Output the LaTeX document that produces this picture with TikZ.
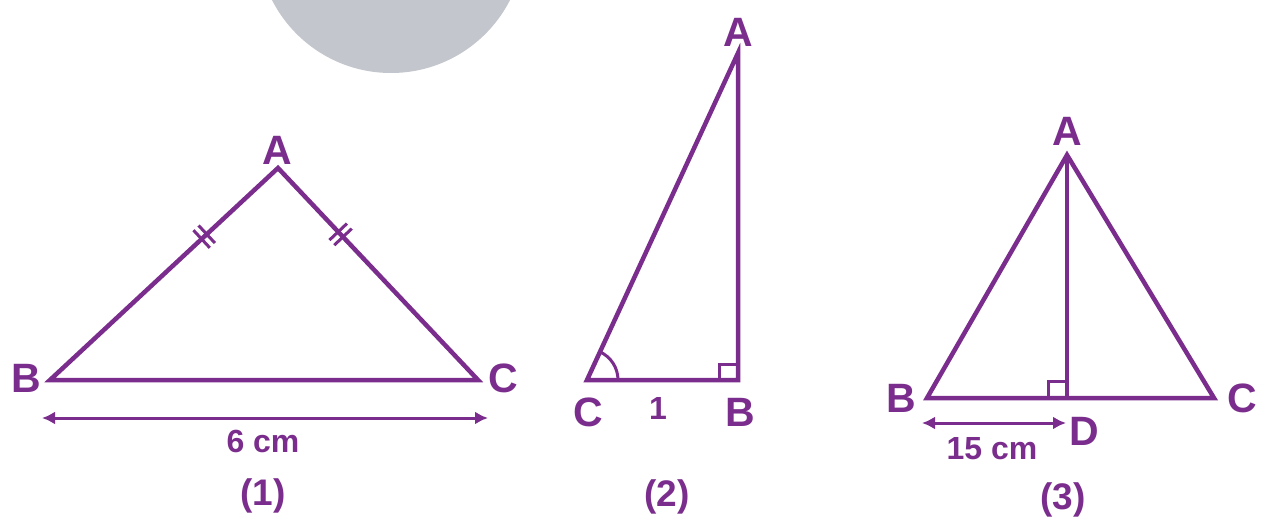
\documentclass[tikz,border=0pt]{standalone}
\usepackage{fontspec}
\setmainfont{Liberation Sans}
\usetikzlibrary{arrows.meta,calc}
\definecolor{pur}{HTML}{7A2D8C}
\definecolor{cgray}{HTML}{C3C6CD}
\begin{document}
\begin{tikzpicture}[x=1pt,y=-1pt,
  edge/.style={draw=pur,line width=4.5pt,line join=miter},
  tickln/.style={draw=pur,line width=3pt},
  lab/.style={text=pur,font=\fontsize{41}{41}\selectfont\bfseries,inner sep=0pt},
  meas/.style={text=pur,font=\fontsize{32}{32}\selectfont\bfseries,inner sep=0pt},
  captxt/.style={text=pur,font=\fontsize{37}{37}\selectfont\bfseries,inner sep=0pt},
  dim/.style={draw=pur,line width=3pt,{Latex[length=13pt,width=13pt]}-{Latex[length=13pt,width=13pt]}}]
\useasboundingbox (0,0) rectangle (1267,522);
\fill[cgray] (391,-60.5) circle (133.5);
% triangle 1
\coordinate (B1) at (50,380);
\coordinate (C1) at (478,380);
\coordinate (A1) at (278,168);
\draw[edge] (B1) -- (A1) -- (C1) -- cycle;
\node[lab] (lA1) at (277,150) {A};
\node[lab] (lB1) at (26,378) {B};
\node[lab] (lC1) at (503,378) {C};
\coordinate (m1) at ($(B1)!0.665!(A1)$);
\coordinate (m2) at ($(C1)!0.675!(A1)$);
\draw[tickln] ($(m1)!12pt!90:(A1)$) -- ($(m1)!12pt!-90:(A1)$);
\draw[tickln] ($($(m1)!7pt!(A1)$)!12pt!90:(A1)$) -- ($($(m1)!7pt!(A1)$)!12pt!-90:(A1)$);
\draw[tickln] ($(m2)!12pt!90:(A1)$) -- ($(m2)!12pt!-90:(A1)$);
\draw[tickln] ($($(m2)!7pt!(A1)$)!12pt!90:(A1)$) -- ($($(m2)!7pt!(A1)$)!12pt!-90:(A1)$);
\coordinate (d1a) at (42,418);
\coordinate (d1b) at (488,418);
\draw[dim] (d1a) -- (d1b);
\node[meas] (t1) at (263,441) {6 cm};
\node[captxt] (c1) at (263,496) {(1)};
% triangle 2
\coordinate (C2) at (587,380);
\coordinate (B2) at (738,380);
\coordinate (A2) at (738,53);
\draw[edge] (C2) -- (B2) -- (A2) -- cycle;
\draw[tickln] ($(C2)+(31,0)$) arc[start angle=0,end angle=-65.2,radius=31];
\draw[tickln] ($(B2)+(-19,0)$) -- ++(0,-16) -- ++(19,0);
\node[lab] (lA2) at (738,32) {A};
\node[lab] (lC2) at (588,412) {C};
\node[lab] (lB2) at (740,412) {B};
\node[meas] (t2) at (658,408) {1};
\node[captxt] (c2) at (667,497) {(2)};
% triangle 3
\coordinate (B3) at (927,398);
\coordinate (C3) at (1214,398);
\coordinate (A3) at (1067,155);
\coordinate (D3) at (1067,398);
\draw[edge] (B3) -- (A3) -- (C3) -- cycle;
\draw[edge] (A3) -- (D3);
\draw[tickln] ($(D3)+(-19,0)$) -- ++(0,-17) -- ++(19,0);
\node[lab] (lA3) at (1067,131) {A};
\node[lab] (lB3) at (901,398) {B};
\node[lab] (lC3) at (1242,398) {C};
\node[lab] (lD3) at (1084,431) {D};
\coordinate (d3a) at (922,423);
\coordinate (d3b) at (1066,423);
\draw[dim] (d3a) -- (d3b);
\node[meas] (t3) at (992,449) {15 cm};
\node[captxt] (c3) at (1063,500) {(3)};
\end{tikzpicture}
\end{document}
